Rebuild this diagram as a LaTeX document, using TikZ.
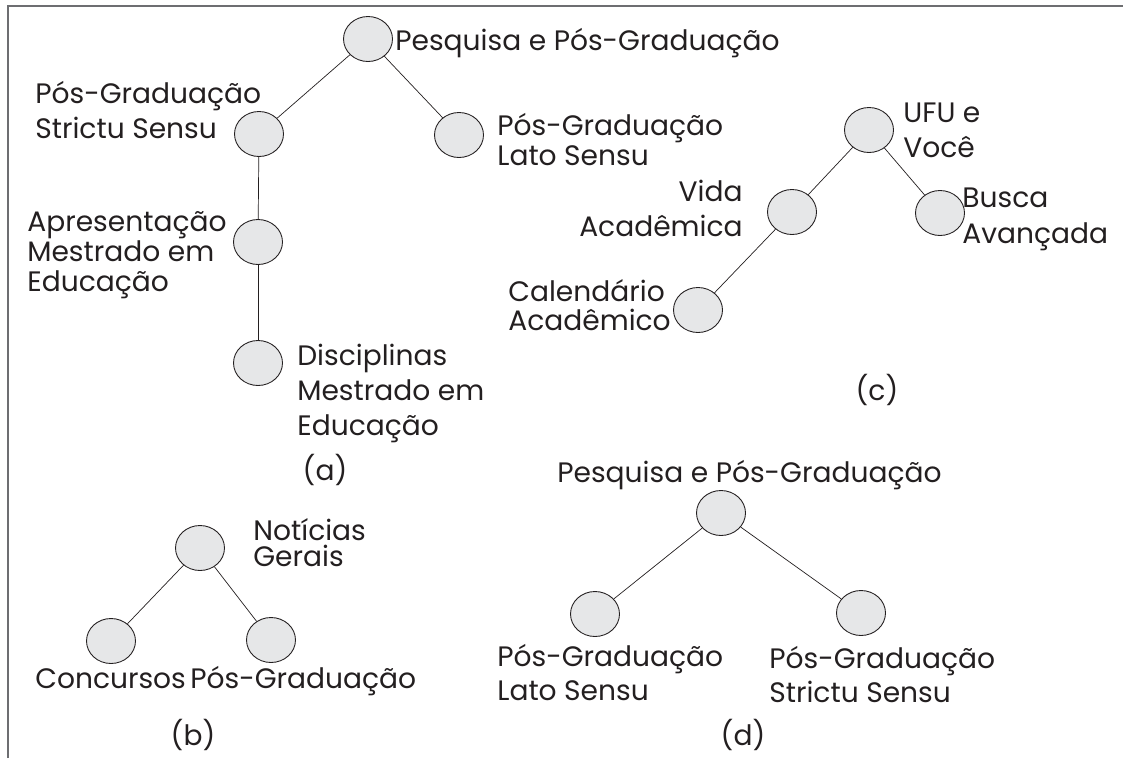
\documentclass[tikz,border=0pt]{standalone}
\usepackage{fontspec}
\setmainfont{Poppins}
\usetikzlibrary{shapes.geometric}

\definecolor{nodefill}{HTML}{E6E7E8}
\definecolor{ink}{HTML}{231F20}
\definecolor{framegray}{HTML}{6D6E71}

\begin{document}
\begin{tikzpicture}[x=0.02cm, y=-0.02cm,
    leaf/.style={ellipse, draw=ink, fill=nodefill, line width=0.5pt,
        minimum width=0.98cm, minimum height=0.9cm, inner sep=0pt},
    % text blocks sit on the baseline of their last line
    txt/.style={font=\fontsize{16}{#1}\selectfont, text=ink, align=left,
        inner sep=0pt, anchor=base west},
    txt/.default=19.5pt,
    edge/.style={draw=ink, line width=0.4pt}]

    % Fix the page size
    \useasboundingbox (0,0) rectangle (1123,758);

    % Frame (left and top only)
    \draw[framegray, line width=1pt] (8,758) -- (8,6) -- (1123,6);

    % ---- (a) ----
    \node[leaf] (aroot) at (368,39) {};
    \node[leaf] (astrictu) at (259,134) {};
    \node[leaf] (alato) at (459,135) {};
    \node[leaf] (aapres) at (258,242) {};
    \node[leaf] (adisc) at (258,363) {};
    \node[txt] (taroot) at (395,50) {Pesquisa e Pós-Graduação};
    \node[txt=19.8pt] (tastrictu) at (35,138) {Pós-Graduação\\Strictu Sensu};
    \node[txt=17pt] (talato) at (497,165) {Pós-Graduação\\Lato Sensu};
    \node[txt=17pt] (taapres) at (27,291) {Apresentação\\Mestrado em\\Educação};
    \node[txt=19.8pt] (tadisc) at (297,435) {Disciplinas\\Mestrado em\\Educação};
    \node[txt, anchor=base] (capa) at (325,480) {(a)};

    % ---- (b) ----
    \node[leaf] (broot) at (200,548) {};
    \node[leaf] (bconc) at (111,641) {};
    \node[leaf] (bpos) at (271,640) {};
    \node[txt=14.8pt] (tbroot) at (253,566) {Notícias\\Gerais};
    \node[txt] (tbconc) at (35,688) {Concursos};
    \node[txt] (tbpos) at (190,688) {Pós-Graduação};
    \node[txt, anchor=base] (capb) at (193,745) {(b)};

    % ---- (c) ----
    \node[leaf] (croot) at (869,130) {};
    \node[leaf] (cvida) at (792,212) {};
    \node[leaf] (cbusca) at (940,213) {};
    \node[leaf] (ccal) at (698,310) {};
    \node[txt=19.8pt] (tcroot) at (903,157) {UFU e\\Você};
    \node[txt=19.8pt, align=right, anchor=base east] (tcvida) at (743,236) {Vida\\Acadêmica};
    \node[txt=20.4pt] (tcbusca) at (962,243) {Busca\\Avançada};
    \node[txt=16pt] (tccal) at (508,330) {Calendário\\Acadêmico};
    \node[txt, anchor=base] (capc) at (877,400) {(c)};

    % ---- (d) ----
    \node[leaf] (droot) at (721,513) {};
    \node[leaf] (dlato) at (595,614) {};
    \node[leaf] (dstrictu) at (861,613) {};
    \node[txt] (tdroot) at (557,482) {Pesquisa e Pós-Graduação};
    \node[txt=19pt] (tdlato) at (497,700) {Pós-Graduação\\Lato Sensu};
    \node[txt=19.3pt] (tdstrictu) at (769,702) {Pós-Graduação\\Strictu Sensu};
    \node[txt, anchor=base] (capd) at (743,745) {(d)};

    % Connectors
    \foreach \a/\b in {aroot/astrictu, aroot/alato, astrictu/aapres, aapres/adisc,
                       broot/bconc, broot/bpos,
                       croot/cvida, croot/cbusca, cvida/ccal,
                       droot/dlato, droot/dstrictu}
        \draw[edge] (\a) -- (\b);
\end{tikzpicture}
\end{document}
